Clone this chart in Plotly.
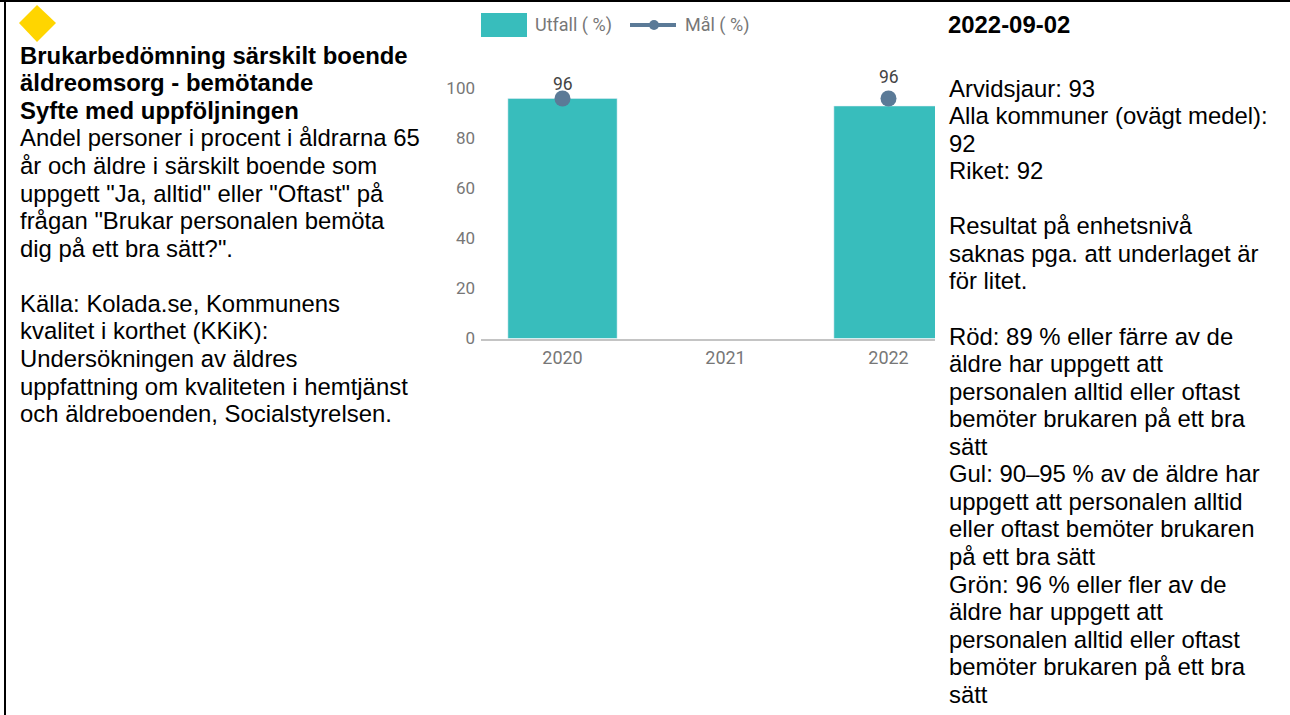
import plotly.graph_objects as go

WIDTH, HEIGHT = 1290, 715

years = [2020, 2021, 2022]
utfall = [96, None, 93]
mal = [96, None, 96]
y_ticks = [0, 20, 40, 60, 80, 100]

title_lines = [
    "Brukarbedömning särskilt boende",
    "äldreomsorg - bemötande",
    "Syfte med uppföljningen",
]
left_lines = [
    "Andel personer i procent i åldrarna 65",
    "år och äldre i särskilt boende som",
    'uppgett "Ja, alltid" eller "Oftast" på',
    'frågan "Brukar personalen bemöta',
    'dig på ett bra sätt?".',
    "",
    "Källa: Kolada.se, Kommunens",
    "kvalitet i korthet (KKiK):",
    "Undersökningen av äldres",
    "uppfattning om kvaliteten i hemtjänst",
    "och äldreboenden, Socialstyrelsen.",
]
date_label = "2022-09-02"
right_lines = [
    "Arvidsjaur: 93",
    "Alla kommuner (ovägt medel):",
    "92",
    "Riket: 92",
    "",
    "Resultat på enhetsnivå",
    "saknas pga. att underlaget är",
    "för litet.",
    "",
    "Röd: 89 % eller färre av de",
    "äldre har uppgett att",
    "personalen alltid eller oftast",
    "bemöter brukaren på ett bra",
    "sätt",
    "Gul: 90–95 % av de äldre har",
    "uppgett att personalen alltid",
    "eller oftast bemöter brukaren",
    "på ett bra sätt",
    "Grön: 96 % eller fler av de",
    "äldre har uppgett att",
    "personalen alltid eller oftast",
    "bemöter brukaren på ett bra",
    "sätt",
]

TEAL = "#38BDBC"
SLATE = "#5B7A97"
GREY = "#777777"
SANS = "Liberation Sans"
LINE_STEP = 27.56


def px(x):
    return x / WIDTH


def py(y):
    return 1 - y / HEIGHT


def text(x, y, s, size=23.9, bold=False, color="#000000", font=SANS):
    return dict(
        xref="paper", yref="paper", x=px(x), y=py(y), text=f"<b>{s}</b>" if bold else s,
        showarrow=False, xanchor="left", yanchor="middle",
        font=dict(family=font, size=size, color=color), borderpad=0, borderwidth=0,
    )


fig = go.Figure()
fig.add_trace(go.Bar(x=years, y=utfall, marker_color=TEAL, width=0.67, name="Utfall ( %)"))
fig.add_trace(go.Scatter(x=years, y=mal, mode="lines+markers", name="Mål ( %)",
                         line=dict(color=SLATE, width=3), marker=dict(color=SLATE, size=16),
                         cliponaxis=False))

annotations = []
for i, line in enumerate(title_lines):
    annotations.append(text(20, 55.3 + i * LINE_STEP, line, bold=True))
for i, line in enumerate(left_lines):
    if line:
        annotations.append(text(20, 138 + i * LINE_STEP, line))
annotations.append(text(948, 24.5, date_label, bold=True))
for i, line in enumerate(right_lines):
    if line:
        annotations.append(text(949, 88 + i * LINE_STEP, line))

annotations.append(text(535, 25, "Utfall ( %)", size=18, color=GREY, font="Roboto"))
annotations.append(text(685, 25, "Mål ( %)", size=18, color=GREY, font="Roboto"))

# labels for the target series, the first one sits closer to its point
for year, value, shift in zip(years, mal, [15, 22, 22]):
    if value is not None:
        annotations.append(dict(xref="x", yref="y", x=year, y=value, text=str(value), showarrow=False,
                                yshift=shift, font=dict(family="Roboto", size=17.5, color="#444444")))

shapes = [
    # right panel covers the end of the chart
    dict(type="rect", xref="paper", yref="paper", x0=px(935), x1=1, y0=0, y1=1, fillcolor="white",
         line_width=0, layer="above"),
    dict(type="rect", xref="paper", yref="paper", x0=0, x1=1, y0=py(2), y1=1, fillcolor="black", line_width=0),
    dict(type="rect", xref="paper", yref="paper", x0=px(4), x1=px(6), y0=0, y1=1, fillcolor="black", line_width=0),
    dict(type="path", xref="paper", yref="paper", fillcolor="#FFD500", line_width=0,
         path=f"M{px(19)},{py(23)} L{px(37)},{py(5)} L{px(56)},{py(23)} L{px(37)},{py(42)} Z"),
    dict(type="rect", xref="paper", yref="paper", x0=px(481), x1=px(527), y0=py(37), y1=py(13),
         fillcolor=TEAL, line_width=0),
    dict(type="line", xref="paper", yref="paper", x0=px(630), x1=px(676), y0=py(25), y1=py(25),
         line=dict(color=SLATE, width=4)),
    dict(type="circle", xref="paper", yref="paper", x0=px(649), x1=px(659), y0=py(30), y1=py(20),
         fillcolor=SLATE, line_width=0),
]

fig.update_layout(
    width=WIDTH, height=HEIGHT, margin=dict(l=0, r=0, t=0, b=0, autoexpand=False),
    paper_bgcolor="white", plot_bgcolor="white", showlegend=False,
    annotations=annotations, shapes=shapes,
    xaxis=dict(domain=[px(481), px(970)], range=[2019.5, 2022.5], tickvals=years,
               showgrid=False, zeroline=False, showline=True, linecolor="#C4C4C4", linewidth=2, ticks="",
               ticklabelstandoff=2, tickfont=dict(family="Roboto", size=18, color=GREY), anchor="y"),
    yaxis=dict(domain=[py(338.5), py(88.5)], range=[0, 100], tickvals=y_ticks, showgrid=False, zeroline=False,
               showline=False, ticks="", ticklabelstandoff=5,
               tickfont=dict(family="Roboto", size=17, color=GREY), anchor="x"),
)

fig.write_html("out.html", config={"displayModeBar": False}, post_script="document.body.style.margin='0';")
